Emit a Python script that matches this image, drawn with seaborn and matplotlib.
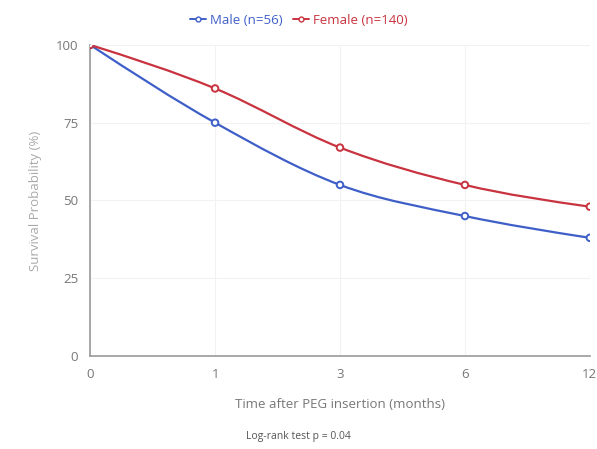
import matplotlib

matplotlib.use("Agg")
import matplotlib.pyplot as plt
import numpy as np
import pandas as pd
import seaborn as sns
from matplotlib.lines import Line2D
from matplotlib.path import Path
from matplotlib.patches import PathPatch

# ---------------------------------------------------------------------------
# Data
# ---------------------------------------------------------------------------
months = ["0", "1", "3", "6", "12"]
male_surv = [100, 75, 55, 45, 38]
female_surv = [100, 86, 67, 55, 48]
series_names = ["Male (n=56)", "Female (n=140)"]

male_color = "#3f5fc8"
female_color = "#c8333f"
text_gray = "#777777"

df = pd.DataFrame({
    "pos": list(range(len(months))) * 2,
    "surv": male_surv + female_surv,
    "group": [series_names[0]] * len(months) + [series_names[1]] * len(months),
})

sns.set_style("white")
plt.rcParams["font.family"] = ["Open Sans", "DejaVu Sans"]

fig = plt.figure(figsize=(5.97, 4.49), dpi=100)
ax = fig.add_axes([0.151, 0.207, 0.837, 0.693])


def monotone_path(xs, ys):
    # monotone cubic (Fritsch-Carlson) drawn as bezier segments
    xs = np.asarray(xs, float)
    ys = np.asarray(ys, float)
    n = len(xs)
    h = np.diff(xs)
    d = np.diff(ys) / h
    m = np.zeros(n)
    for i in range(1, n - 1):
        if d[i - 1] * d[i] > 0:
            m[i] = (np.sign(d[i - 1]) + np.sign(d[i])) * min(
                abs(d[i - 1]), abs(d[i]),
                0.5 * abs((h[i - 1] * d[i] + h[i] * d[i - 1]) / (h[i - 1] + h[i])),
            )
    m[0] = (3 * d[0] - m[1]) / 2
    m[-1] = (3 * d[-1] - m[-2]) / 2
    verts = [(xs[0], ys[0])]
    codes = [Path.MOVETO]
    for i in range(n - 1):
        dx = h[i] / 3
        verts += [(xs[i] + dx, ys[i] + m[i] * dx),
                  (xs[i + 1] - dx, ys[i + 1] - m[i + 1] * dx),
                  (xs[i + 1], ys[i + 1])]
        codes += [Path.CURVE4] * 3
    return Path(verts, codes)


palette = {series_names[0]: male_color, series_names[1]: female_color}
for name, vals in [(series_names[0], male_surv), (series_names[1], female_surv)]:
    ax.add_patch(PathPatch(monotone_path(range(len(months)), vals), fill=False,
                           edgecolor=palette[name], lw=1.6, zorder=3))

sns.scatterplot(data=df, x="pos", y="surv", hue="group", palette=palette, ax=ax,
                marker="o", s=22, linewidth=1.4, zorder=4, legend=False)
# hollow markers: edge coloured, white face
for coll in ax.collections:
    fc = coll.get_facecolors()
    if len(fc):
        coll.set_edgecolors(fc)
        coll.set_facecolors("white")

ax.set_xlim(0, len(months) - 1)
ax.set_ylim(0, 100)
ax.set_xticks(range(len(months)))
ax.set_xticklabels(months)
ax.set_yticks([0, 25, 50, 75, 100])
ax.grid(True, color="#f2f2f2", lw=0.8)
for s in ["top", "right"]:
    ax.spines[s].set_visible(False)
for s in ["left", "bottom"]:
    ax.spines[s].set_color("#999999")
    ax.spines[s].set_linewidth(1.2)
ax.tick_params(axis="both", colors="#999999", labelcolor=text_gray, labelsize=9.5,
               length=5, width=1, direction="out")
ax.set_xlabel("Time after PEG insertion (months)", color=text_gray, fontsize=9.5, labelpad=12)
ax.set_ylabel("Survival Probability (%)", color="#aaaaaa", fontsize=9.5, labelpad=10)

handles = [
    Line2D([0], [0], color=male_color, lw=1.4, marker="o", markersize=3.5, markerfacecolor="white"),
    Line2D([0], [0], color=female_color, lw=1.4, marker="o", markersize=3.5, markerfacecolor="white"),
]
leg = fig.legend(handles, series_names, loc="center", bbox_to_anchor=(0.5, 0.955), ncol=2,
                 frameon=False, fontsize=9.5, handlelength=1.2, handletextpad=0.3, columnspacing=0.8)
for txt, c in zip(leg.get_texts(), [male_color, female_color]):
    txt.set_color(c)

fig.text(0.5, 0.027, "Log-rank test p = 0.04", ha="center", va="center", fontsize=7.5, color="#555555")

fig.savefig("out.png", dpi=100)
